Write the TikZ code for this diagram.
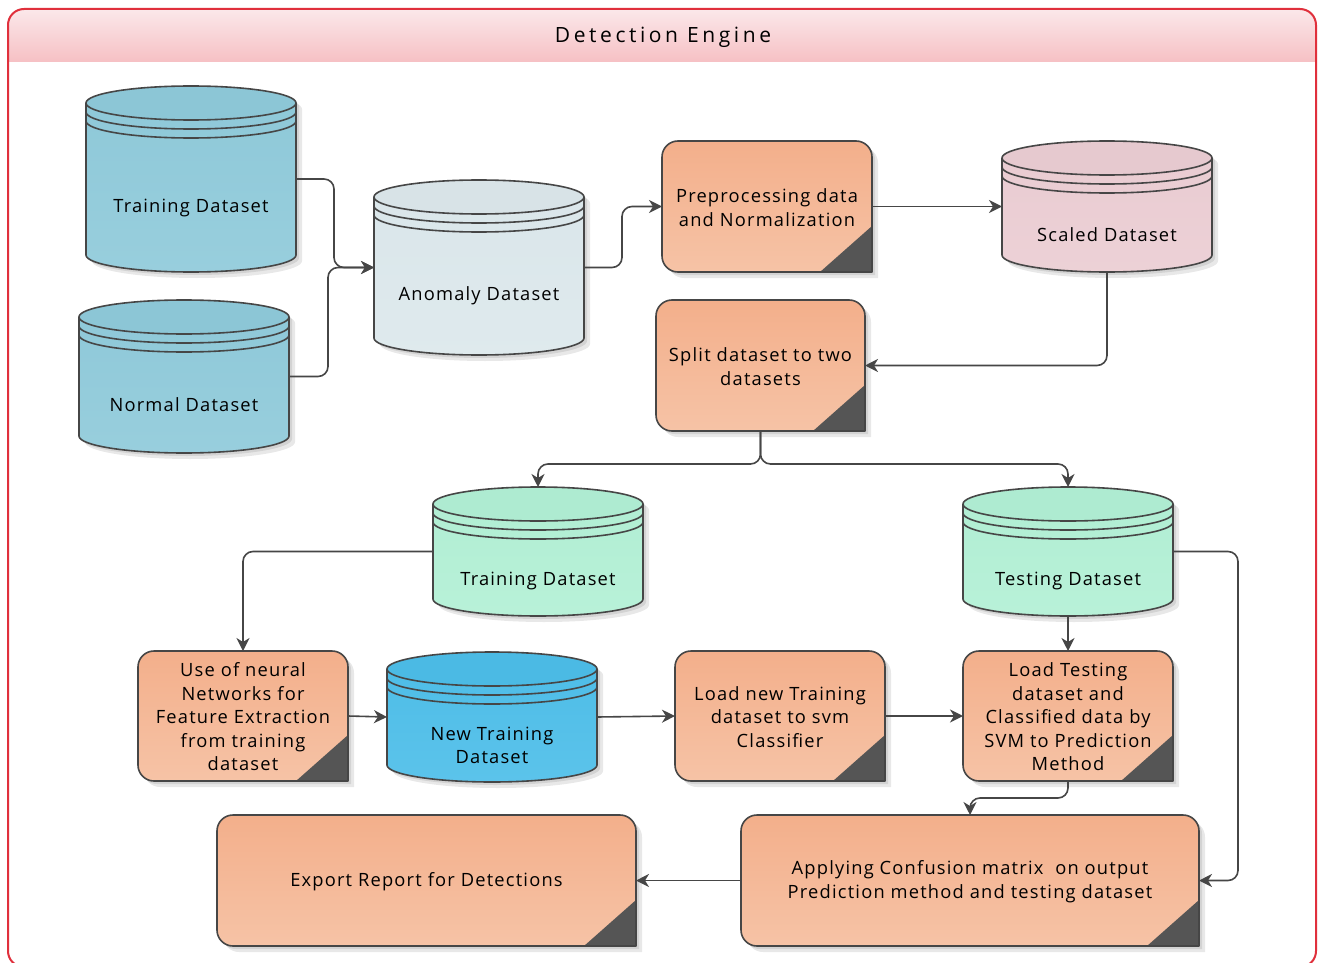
\documentclass[tikz,border=0pt]{standalone}
\usepackage{fontspec}
\setmainfont{Open Sans}[LetterSpace=6.5]
\newfontfamily\titlefont{Open Sans}[LetterSpace=17]
\usetikzlibrary{arrows.meta,calc}
\definecolor{lineC}{HTML}{464646}
\definecolor{frameC}{HTML}{E0303C}
\definecolor{barTop}{HTML}{FBE8EA}
\definecolor{barBot}{HTML}{F6C0C4}
\definecolor{boxTop}{HTML}{F3AF8B}
\definecolor{boxBot}{HTML}{F6C3A6}
\definecolor{cornerC}{HTML}{555555}
\definecolor{cylBlue}{HTML}{8FCADA}
\definecolor{cylGray}{HTML}{DCE8EC}
\definecolor{cylPink}{HTML}{EBCDD3}
\definecolor{cylGreen}{HTML}{B2F0D5}
\definecolor{cylSky}{HTML}{4DBEE9}
\tikzset{
  txt/.style={font=\fontsize{18.3}{23.5}\selectfont, align=center, text=black, inner sep=0pt},
  titletxt/.style={font=\titlefont\fontsize{21}{24}\selectfont, text=black, inner sep=0pt},
  outl/.style={draw=lineC, line width=1.6pt},
  conn/.style={draw=lineC, line width=1.6pt, rounded corners=10pt,
    -{Stealth[length=13pt,width=13pt,inset=4pt]}},
  bbox/.style={inner sep=0pt, outer sep=0pt, draw=none},
  shad/.style={fill=black, opacity=0.09}
}
% cylinder: name, x1, x2, y1, y2, colour, text y, text
\newcommand{\dbcyl}[8]{%
  \pgfmathsetmacro\cx{(#2+#3)/2}%
  \pgfmathsetmacro\rx{(#3-#2)/2}%
  \pgfmathsetmacro\yc{#4+17}%
  \pgfmathsetmacro\yb{#5-17}%
  \pgfmathsetmacro\ya{\yc+9}%
  \pgfmathsetmacro\yd{\yc+18}%
  \pgfmathsetmacro\ww{#3-#2}%
  \pgfmathsetmacro\hh{#5-#4}%
  \pgfmathsetmacro\cy{(#4+#5)/2}%
  \pgfmathsetmacro\ty{#7+2.5}%
  \foreach \s in {3,6}{%
    \fill[shad] ($(#2,\yc)+(\s,\s)$) -- ($(#2,\yb)+(\s,\s)$) arc[start angle=180,end angle=360,x radius=\rx pt,y radius=17pt]
      -- ($(#3,\yc)+(\s,\s)$) arc[start angle=0,end angle=180,x radius=\rx pt,y radius=17pt] -- cycle;}
  \shade[top color=#6!99!black, bottom color=#6!92!white] (#2,\yc) -- (#2,\yb) arc[start angle=180,end angle=360,x radius=\rx pt,y radius=17pt]
    -- (#3,\yc) arc[start angle=0,end angle=180,x radius=\rx pt,y radius=17pt] -- cycle;
  \fill[#6!98!black] (\cx,\yc) ellipse[x radius=\rx pt,y radius=17pt];
  \draw[outl, line join=round] (#2,\yc) -- (#2,\yb) arc[start angle=180,end angle=360,x radius=\rx pt,y radius=17pt]
    -- (#3,\yc) arc[start angle=0,end angle=180,x radius=\rx pt,y radius=17pt] -- cycle;
  \draw[outl] (#2,\yc) arc[start angle=180,end angle=360,x radius=\rx pt,y radius=17pt];
  \draw[outl] (#2,\ya) arc[start angle=180,end angle=360,x radius=\rx pt,y radius=17pt];
  \draw[outl] (#2,\yd) arc[start angle=180,end angle=360,x radius=\rx pt,y radius=17pt];
  \node[bbox, minimum width=\ww pt, minimum height=\hh pt] (#1) at (\cx,\cy) {};
  \node[txt] (#1-t) at (\cx,\ty) {#8};
}
% process box: name, x1, x2, y1, y2, text
\newcommand{\procbox}[6]{%
  \pgfmathsetmacro\cx{(#2+#3)/2}%
  \pgfmathsetmacro\cy{(#4+#5)/2}%
  \pgfmathsetmacro\ty{\cy+1}%
  \pgfmathsetmacro\ww{#3-#2}%
  \pgfmathsetmacro\hh{#5-#4}%
  \foreach \s in {3,6}{%
    \fill[shad] ($(#2+16,#4)+(\s,\s)$) -- ($(#3-16,#4)+(\s,\s)$) arc[start angle=90,end angle=0,radius=16pt]
      -- ($(#3,#5)+(\s,\s)$) -- ($(#2+16,#5)+(\s,\s)$) arc[start angle=270,end angle=180,radius=16pt]
      -- ($(#2,#4+16)+(\s,\s)$) arc[start angle=180,end angle=90,radius=16pt] -- cycle;}
  \shade[top color=boxTop, bottom color=boxBot] (#2+16,#4) -- (#3-16,#4) arc[start angle=90,end angle=0,radius=16pt]
    -- (#3,#5) -- (#2+16,#5) arc[start angle=270,end angle=180,radius=16pt]
    -- (#2,#4+16) arc[start angle=180,end angle=90,radius=16pt] -- cycle;
  \fill[cornerC] (#3,#5-46) -- (#3,#5) -- (#3-52,#5) -- cycle;
  \draw[outl, line join=round] (#2+16,#4) -- (#3-16,#4) arc[start angle=90,end angle=0,radius=16pt]
    -- (#3,#5) -- (#2+16,#5) arc[start angle=270,end angle=180,radius=16pt]
    -- (#2,#4+16) arc[start angle=180,end angle=90,radius=16pt] -- cycle;
  \node[bbox, minimum width=\ww pt, minimum height=\hh pt] (#1) at (\cx,\cy) {};
  \node[txt] (#1-t) at (\cx,\ty) {#6};
}
\begin{document}
\begin{tikzpicture}[x=1pt,y=-1pt]
\useasboundingbox (0,0) rectangle (1320,963);
\fill[white] (0,0) rectangle (1320,963);
% title bar
\shade[top color=barTop, bottom color=barBot] (8,62) -- (8,25) arc[start angle=180,end angle=90,radius=16pt]
  -- (1300,9) arc[start angle=90,end angle=0,radius=16pt] -- (1316,62) -- cycle;
\draw[frameC, line width=2pt, rounded corners=16pt] (8,9) rectangle (1316,967);
\node[titletxt] (title) at (663,37) {Detection Engine};

% data stores
\dbcyl{trainA}{86}{296}{86}{272}{cylBlue}{205}{Training Dataset}
\dbcyl{normal}{79}{289}{300}{453}{cylBlue}{402}{Normal Dataset}
\dbcyl{anomaly}{374}{584}{180}{355}{cylGray}{293}{Anomaly Dataset}
\dbcyl{scaled}{1002}{1212}{141}{272}{cylPink}{232}{Scaled Dataset}
\dbcyl{trainB}{433}{643}{487}{616}{cylGreen}{578}{Training Dataset}
\dbcyl{test}{963}{1173}{487}{616}{cylGreen}{578}{Testing Dataset}
\dbcyl{newtr}{387}{597}{652}{782}{cylSky}{743}{New Training\\Dataset}

% processes
\procbox{prep}{662}{872}{141}{272}{Preprocessing data\\and Normalization}
\procbox{split}{656}{865}{300}{431}{Split dataset to two\\datasets}
\procbox{use}{138}{348}{651}{781}{Use of neural\\Networks for\\Feature Extraction\\from training\\dataset}
\procbox{loadnew}{675}{885}{651}{781}{Load new Training\\dataset to svm\\Classifier}
\procbox{loadtest}{963}{1173}{651}{781}{Load Testing\\dataset and\\Classified data by\\SVM to Prediction\\Method}
\procbox{export}{217}{636}{815}{946}{Export Report for Detections}
\procbox{conf}{741}{1199}{815}{946}{Applying Confusion matrix\ \ on output\\Prediction method and testing dataset}

% connectors
\draw[conn] (trainA.east) -- ++(38,0) |- (anomaly.west);
\draw[conn] (normal.east) -- ++(39,0) |- (anomaly.west);
\draw[conn] (anomaly.east) -- ++(38,0) |- (prep.west);
\draw[conn] (prep.east) -- (scaled.west);
\draw[conn] (scaled.south) |- (split.east);
\draw[conn] (split.south) -- ++(0,33) -| (trainB.north);
\draw[conn] (split.south) -- ++(0,33) -| (test.north);
\draw[conn] (trainB.west) -| (use.north);
\draw[conn] (use.east) -- (newtr.west);
\draw[conn] (newtr.east) -- (loadnew.west);
\draw[conn] (loadnew.east) -- (loadtest.west);
\draw[conn] (test.south) -- (loadtest.north);
\draw[conn] (test.east) -- ++(65,0) |- (conf.east);
\draw[conn] (loadtest.south) -- ++(0,17) -| (conf.north);
\draw[conn] (conf.west) -- (export.east);
\end{tikzpicture}
\end{document}
